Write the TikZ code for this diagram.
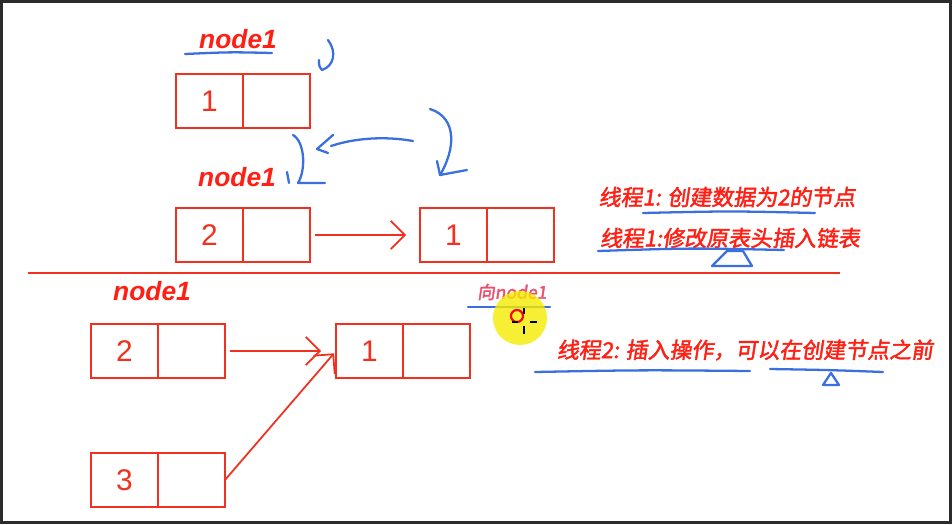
\documentclass[tikz,border=0pt]{standalone}
\usepackage{fontspec}
\setsansfont{Liberation Sans}
\newfontfamily\cjk{Noto Sans CJK SC}[AutoFakeBold=2,AutoFakeSlant=0.15]
\usetikzlibrary{arrows.meta, positioning}
\definecolor{cred}{HTML}{F2301F}
\definecolor{tred}{HTML}{FF2015}
\definecolor{cblue}{HTML}{3A6FE0}
\definecolor{cframe}{HTML}{2B2B2B}
\definecolor{cpink}{HTML}{F04C6C}
\definecolor{cyellow}{HTML}{F5EB00}

\tikzset{
  cell/.style={draw=cred, line width=1.1pt, minimum width=1.34cm, minimum height=1.08cm,
    inner sep=0pt, outer sep=0pt, font=\sffamily\fontsize{17}{17}\selectfont, text=cred},
  nodelabel/.style={font=\sffamily\bfseries\itshape\fontsize{15}{15}\selectfont, text=tred},
  note/.style={font=\cjk\bfseries\itshape\fontsize{12.5}{12.5}\selectfont, text=tred},
  link/.style={draw=cred, line width=1pt, -{Straight Barb[length=8pt,width=16pt]}},
  ink/.style={draw=cblue, line width=1.3pt, line cap=round, line join=round},
}

\begin{document}
\begin{tikzpicture}[x=0.02cm, y=-0.02cm]
  \useasboundingbox (0,0) rectangle (952,524);
  \fill[cframe] (0,0) rectangle (952,524);
  \fill[white] (3,3) rectangle (949,521);

  \foreach \n/\x/\y/\v in {a/176/74/1, b/176/208/2, c/420/208/1, d/91/324/2, e/336/324/1, f/91/453/3}{
    \node[cell, anchor=north west] (\n-val) at (\x,\y) {\v};
    \node[cell, right=0pt of \n-val] (\n-nxt) {};
  }

  \node[nodelabel] (lab1) at (238,39) {node1};
  \node[nodelabel] (lab2) at (237,177) {node1};
  \node[nodelabel] (lab3) at (152,291) {node1};

  \draw[link, shorten <=0.1cm, shorten >=0.28cm] (b-nxt) -- (c-val);
  \draw[link, shorten <=0.1cm, shorten >=0.3cm] (d-nxt) -- (e-val);
  \draw[link, shorten >=0.06cm] (f-nxt.east) -- (e-val.west);

  \coordinate (sepl) at (28,273);
  \coordinate (sepr) at (840,273);
  \draw[cred, line width=1.1pt] (sepl) -- (sepr);

  \node[note] (t1) at (727,197) {线程1: 创建数据为2的节点};
  \node[note] (t2) at (730,238) {线程1:修改原表头插入链表};
  \node[note] (t3) at (745,350) {线程2: 插入操作，可以在创建节点之前};

  \draw[ink] (185,54) .. controls (230,52) .. (272,53);
  \draw[ink] (328,40) .. controls (337,52) and (334,66) .. (322,70) .. controls (319,66) .. (319,60);
  \draw[ink] (430,109) .. controls (458,118) and (455,150) .. (440,175) -- (467,170);
  \draw[ink] (437,161) -- (440,175);
  \draw[ink] (413,141) .. controls (385,136) and (355,138) .. (331,146);
  \draw[ink] (333,135) -- (317,149) -- (328,153);
  \draw[ink] (293,135) .. controls (305,142) and (306,170) .. (298,183) -- (325,183);
  \draw[ink] (287,172) -- (289,183);

  \draw[ink] (643,213) .. controls (730,211) .. (815,213);
  \draw[ink] (598,251) .. controls (690,248) .. (784,250);
  \draw[ink] (727,251) -- (743,251) -- (752,266) -- (712,266) -- cycle;
  \draw[ink] (535,372) .. controls (640,370) .. (750,371);
  \draw[ink] (770,369) .. controls (830,370) .. (883,372);
  \draw[ink] (831,373) -- (823,385) -- (839,385) -- cycle;

  \node[font=\cjk\bfseries\itshape\fontsize{10}{10}\selectfont, text=cpink] (t4) at (512,292) {向node1};
  \draw[ink] (468,307) -- (550,307);
  \fill[cyellow, fill opacity=0.8] (520,318) circle[radius=0.54cm];
  \draw[red, line width=1.2pt] (517,316) circle[radius=0.12cm];
  \draw[black, line width=0.6pt] (524,308) -- (524,314) (524,326) -- (524,334)
    (512,322) -- (518,322) (530,322) -- (537,322);
\end{tikzpicture}
\end{document}
